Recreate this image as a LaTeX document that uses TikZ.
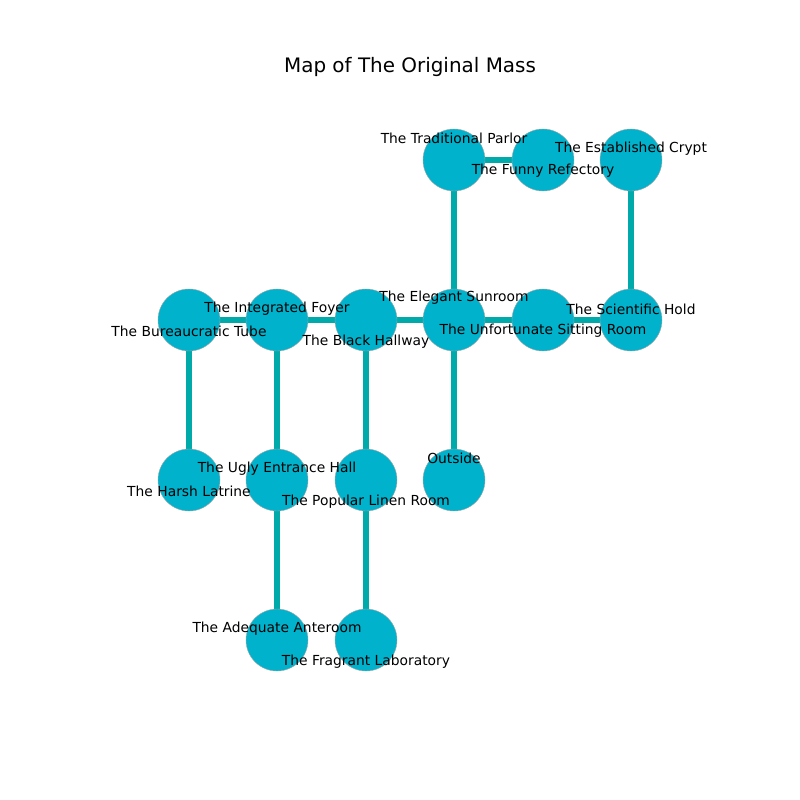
\documentclass[tikz,border=0pt]{standalone}
\usepackage{fontspec}
\setmainfont{DejaVu Sans}
\usepackage{tikz}
\usetikzlibrary{calc, backgrounds}

\begin{document}
\begin{tikzpicture}[x=0.254mm, y=-0.254mm, font=\fontsize{10}{12}\selectfont,
    room/.style={circle, draw=gray!70, line width=0.3pt, fill=roomfill,
                 minimum size=15.75mm, inner sep=0pt},
    door/.style={draw=wall, line width=4.3pt},
    roomname/.style={inner sep=0pt, text=black}]

% ── Colour palette ──────────────────────────────────────────
\definecolor{roomfill}{HTML}{00B2CC}
\definecolor{wall}{HTML}{00AAAA}

\useasboundingbox (0,0) rectangle (800,800);

% ── Title ───────────────────────────────────────────────────
\node[font=\fontsize{14.4}{17}\selectfont] (title) at (410,67) {Map of The Original Mass};

% ── Rooms ───────────────────────────────────────────────────
\node[room] (parlor)    at (454,160) {};
\node[room] (refectory) at (543,160) {};
\node[room] (crypt)     at (631,160) {};
\node[room] (tube)      at (189,320) {};
\node[room] (foyer)     at (277,320) {};
\node[room] (hallway)   at (366,320) {};
\node[room] (sunroom)   at (454,320) {};
\node[room] (sitting)   at (543,320) {};
\node[room] (hold)      at (631,320) {};
\node[room] (latrine)   at (189,480) {};
\node[room] (entrance)  at (277,480) {};
\node[room] (linen)     at (366,480) {};
\node[room] (outside)   at (454,480) {};
\node[room] (anteroom)  at (277,640) {};
\node[room] (lab)       at (366,640) {};

% ── Doors ───────────────────────────────────────────────────
\begin{scope}[on background layer]
\draw[door] (parlor) -- (refectory);
\draw[door] (parlor) -- (sunroom);
\draw[door] (crypt) -- (hold);
\draw[door] (tube) -- (foyer);
\draw[door] (foyer) -- (hallway);
\draw[door] (hallway) -- (sunroom);
\draw[door] (sunroom) -- (sitting);
\draw[door] (sitting) -- (hold);
\draw[door] (tube) -- (latrine);
\draw[door] (foyer) -- (entrance);
\draw[door] (hallway) -- (linen);
\draw[door] (sunroom) -- (outside);
\draw[door] (entrance) -- (anteroom);
\draw[door] (linen) -- (lab);
\end{scope}

% ── Room names ──────────────────────────────────────────────
\node[roomname] (parlor-l)    at ($(parlor)+(0,-22)$)    {The Traditional Parlor};
\node[roomname] (refectory-l) at ($(refectory)+(0,11)$)  {The Funny Refectory};
\node[roomname] (crypt-l)     at ($(crypt)+(0,-11)$)     {The Established Crypt};
\node[roomname] (sunroom-l)   at ($(sunroom)+(0,-22)$)   {The Elegant Sunroom};
\node[roomname] (sitting-l)   at ($(sitting)+(0,11)$)    {The Unfortunate Sitting Room};
\node[roomname] (hold-l)      at ($(hold)+(0,-11)$)      {The Scientific Hold};
\node[roomname] (foyer-l)     at ($(foyer)+(0,-11)$)     {The Integrated Foyer};
\node[roomname] (tube-l)      at ($(tube)+(0,11)$)       {The Bureaucratic Tube};
\node[roomname] (hallway-l)   at ($(hallway)+(0,22)$)    {The Black Hallway};
\node[roomname] (outside-l)   at ($(outside)+(0,-22)$)   {Outside};
\node[roomname] (entrance-l)  at ($(entrance)+(0,-11)$)  {The Ugly Entrance Hall};
\node[roomname] (latrine-l)   at ($(latrine)+(0,11)$)    {The Harsh Latrine};
\node[roomname] (linen-l)     at ($(linen)+(0,22)$)      {The Popular Linen Room};
\node[roomname] (anteroom-l)  at ($(anteroom)+(0,-11)$)  {The Adequate Anteroom};
\node[roomname] (lab-l)       at ($(lab)+(0,22)$)        {The Fragrant Laboratory};

\end{tikzpicture}
\end{document}
